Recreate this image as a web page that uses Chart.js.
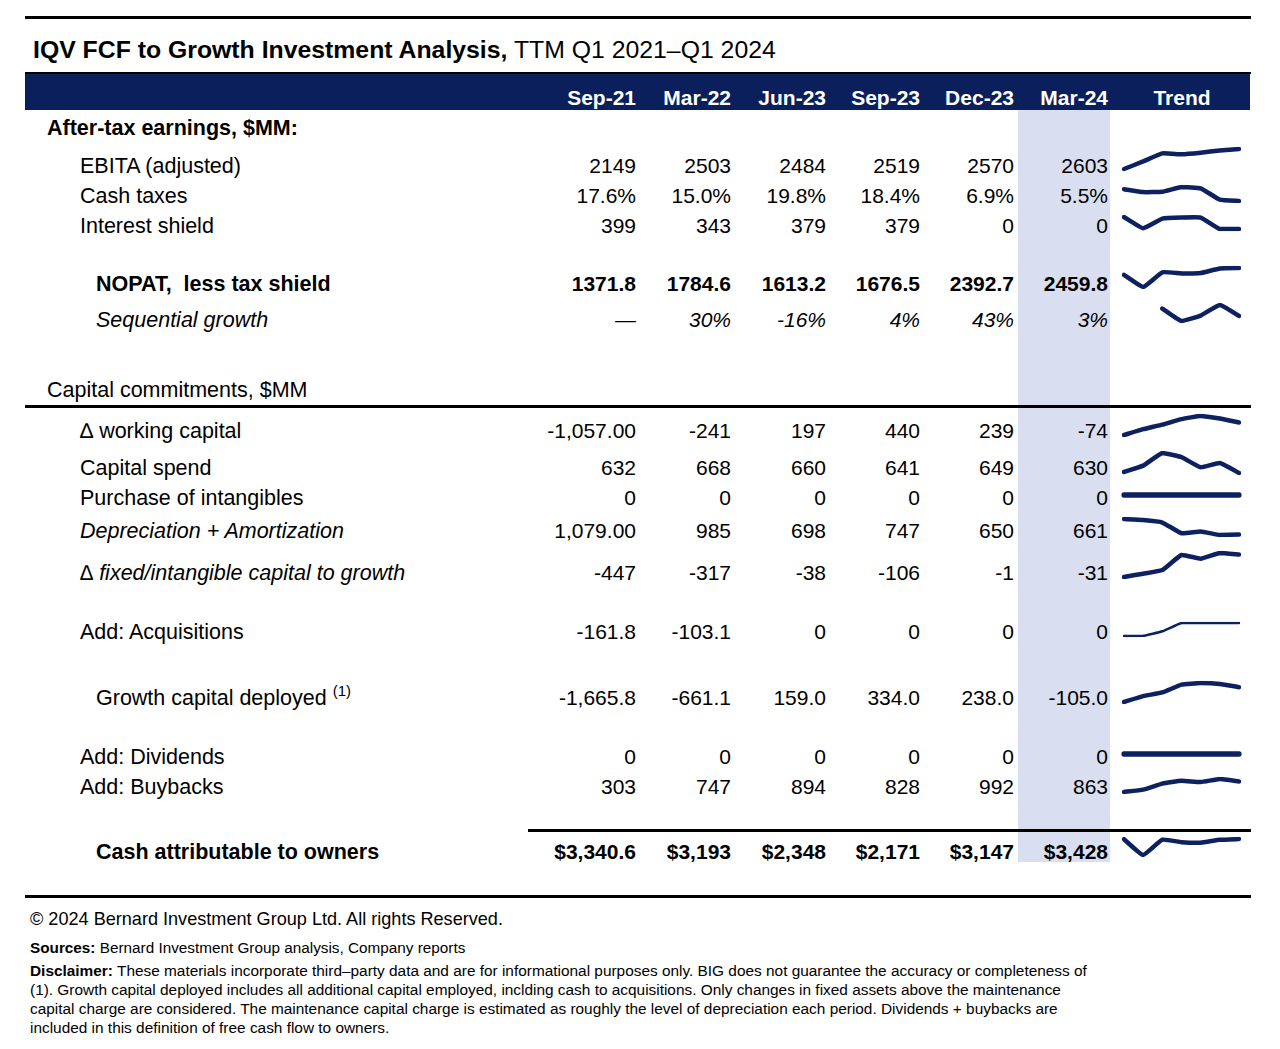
<!DOCTYPE html>
<html>
<head>
<meta charset="utf-8">
<script src="https://cdn.jsdelivr.net/npm/chart.js@4.4.1/dist/chart.umd.min.js"></script>
<style>
  html, body { margin: 0; padding: 0; background: #fff; }
  body { width: 1280px; height: 1049px; position: relative; overflow: hidden;
         font-family: "Liberation Sans", Arial, Helvetica, sans-serif; color: #000; }
  .abs { position: absolute; white-space: nowrap; }
  .rule { position: absolute; background: #000; }
  .cell { position: absolute; height: 30px; line-height: 30px; font-size: 21px; white-space: nowrap; }
  .lbl { font-size: 21.5px; }
  .num { text-align: right; width: 120px; }
  .hdr { position: absolute; top: 83px; height: 30px; line-height: 30px; font-size: 21px; font-weight: bold; color: #fff; text-align: right; width: 120px; }
  canvas.spark { position: absolute; }
  .foot { position: absolute; white-space: nowrap; font-size: 15.4px; line-height: 19px; left: 30px; }
  sup.fn { font-size: 15px; position: relative; top: -9px; vertical-align: baseline; line-height: 0; }
</style>
</head>
<body>
<div class="rule" style="left:25px; top:16px; width:1226px; height:3px;"></div>
<div class="abs" style="left:33px; top:34px; font-size:24.8px; line-height:32px;"><b>IQV FCF to Growth Investment Analysis,</b> TTM Q1 2021–Q1 2024</div>
<div class="rule" style="left:25px; top:72px; width:1226px; height:2px;"></div>
<div style="position:absolute; left:25px; top:74px; width:1225px; height:36px; background:#0b1f5c;"></div>
<div style="position:absolute; left:1018px; top:110px; width:92px; height:752px; background:#d9dff0;"></div>
<div id="root"></div>
<div class="rule" style="left:25px; top:405px; width:1226px; height:3px;"></div>
<div class="rule" style="left:528px; top:829px; width:723px; height:3px;"></div>
<div class="rule" style="left:25px; top:895px; width:1226px; height:3px;"></div>

<div class="abs" style="left:30px; top:907px; font-size:18.1px; line-height:24px;">© 2024 Bernard Investment Group Ltd. All rights Reserved.</div>
<div class="foot" style="top:938px; font-size:15.3px;"><b>Sources:</b> Bernard Investment Group analysis, Company reports</div>
<div class="foot" style="top:961px;"><b>Disclaimer:</b> These materials incorporate third–party data and are for informational purposes only. BIG does not guarantee the accuracy or completeness of</div>
<div class="foot" style="top:980px;">(1). Growth capital deployed includes all additional capital employed, inclding cash to acquisitions. Only changes in fixed assets above the maintenance</div>
<div class="foot" style="top:999px;">capital charge are considered. The maintenance capital charge is estimated as roughly the level of depreciation each period. Dividends + buybacks are</div>
<div class="foot" style="top:1018px;">included in this definition of free cash flow to owners.</div>

<script>
// ---------- DATA ----------
const periods = ['Sep-21', 'Mar-22', 'Jun-23', 'Sep-23', 'Dec-23', 'Mar-24'];
const ebita = [2149, 2503, 2484, 2519, 2570, 2603];
const cashTaxes = [17.6, 15.0, 19.8, 18.4, 6.9, 5.5];
const interestShield = [399, 343, 379, 379, 0, 0];
const nopat = [1371.8, 1784.6, 1613.2, 1676.5, 2392.7, 2459.8];
const seqGrowth = [null, 30, -16, 4, 43, 3];
const workingCapital = [-1057, -241, 197, 440, 239, -74];
const capitalSpend = [632, 668, 660, 641, 649, 630];
const intangibles = [0, 0, 0, 0, 0, 0];
const depAmort = [1079, 985, 698, 747, 650, 661];
const fixedCapital = [-447, -317, -38, -106, -1, -31];
const acquisitions = [-161.8, -103.1, 0, 0, 0, 0];
const growthCapital = [-1665.8, -661.1, 159.0, 334.0, 238.0, -105.0];
const dividends = [0, 0, 0, 0, 0, 0];
const buybacks = [303, 747, 894, 828, 992, 863];
const cashToOwners = [3340.6, 3193, 2348, 2171, 3147, 3428];

// The Trend sparklines have a 7th point (a period not shown in the table,
// between Sep-21 and Mar-22); its values are estimated from the sparklines.
const trendPeriods = ['Sep-21', 'Dec-21', 'Mar-22', 'Jun-23', 'Sep-23', 'Dec-23', 'Mar-24'];
const hiddenEbita = 2320;
const hiddenCashTaxes = 14.6;
const hiddenInterest = 25;
const hiddenNopat = -520;
const hiddenGrowth = null;
const hiddenWorkingCapital = -600;
const hiddenCapitalSpend = 644;
const hiddenIntangibles = 0;
const hiddenDepAmort = 1050;
const hiddenFixedCapital = -385;
const hiddenAcquisitions = -160;
const hiddenGrowthCapital = -1050;
const hiddenDividends = 0;
const hiddenBuybacks = 430;
const hiddenCashToOwners = -2000;

// ---------- LAYOUT / STYLE ----------
const colRight = [636, 731, 826, 920, 1014, 1108];
const navy = '#0d2160';

const rows = [
  { label: 'After-tax earnings, $MM:', y: 128, x: 47, bold: true },
  { label: 'EBITA (adjusted)', y: 166, x: 80, data: ebita, hidden: hiddenEbita, fmt: { dec: 0 }, spark: [149, 169] },
  { label: 'Cash taxes', y: 196, x: 80, data: cashTaxes, hidden: hiddenCashTaxes, fmt: { dec: 1, suf: '%' }, spark: [187, 201] },
  { label: 'Interest shield', y: 226, x: 80, data: interestShield, hidden: hiddenInterest, fmt: { dec: 0 }, spark: [217, 229] },
  { label: 'NOPAT,&nbsp;&nbsp;less tax shield', y: 284, x: 96, bold: true, data: nopat, hidden: hiddenNopat, fmt: { dec: 1 }, spark: [268, 287] },
  { label: 'Sequential growth', y: 320, x: 96, italic: true, numItalic: true, data: seqGrowth, hidden: hiddenGrowth, fmt: { dec: 0, suf: '%' }, spark: [305, 321] },
  { label: 'Capital commitments, $MM', y: 390, x: 47 },
  { label: '∆ working capital', y: 431, x: 80, data: workingCapital, hidden: hiddenWorkingCapital, fmt: { dec: [2,0,0,0,0,0], comma: true }, spark: [416, 435] },
  { label: 'Capital spend', y: 468, x: 80, data: capitalSpend, hidden: hiddenCapitalSpend, fmt: { dec: 0 }, spark: [453, 473] },
  { label: 'Purchase of intangibles', y: 498, x: 80, data: intangibles, hidden: hiddenIntangibles, fmt: { dec: 0 }, spark: [489, 501], width: 5.5 },
  { label: 'Depreciation + Amortization', y: 531, x: 80, italic: true, data: depAmort, hidden: hiddenDepAmort, fmt: { dec: [2,0,0,0,0,0], comma: true }, spark: [519, 535] },
  { label: '∆ fixed/intangible capital to growth', y: 573, x: 80, italic: true, data: fixedCapital, hidden: hiddenFixedCapital, fmt: { dec: 0 }, spark: [553, 577] },
  { label: 'Add: Acquisitions', y: 632, x: 80, data: acquisitions, hidden: hiddenAcquisitions, fmt: { dec: [1,1,0,0,0,0] }, spark: [623, 636], width: 2.5 },
  { label: 'Growth capital deployed <sup class="fn">(1)</sup>', y: 698, x: 96, data: growthCapital, hidden: hiddenGrowthCapital, fmt: { dec: 1, comma: true }, spark: [683, 702] },
  { label: 'Add: Dividends', y: 757, x: 80, data: dividends, hidden: hiddenDividends, fmt: { dec: 0 }, spark: [748, 760], width: 5.5 },
  { label: 'Add: Buybacks', y: 787, x: 80, data: buybacks, hidden: hiddenBuybacks, fmt: { dec: 0 }, spark: [779, 792] },
  { label: 'Cash attributable to owners', y: 852, x: 96, bold: true, data: cashToOwners, hidden: hiddenCashToOwners, fmt: { dec: [1,0,0,0,0,0], comma: true, pre: '$' }, spark: [839, 855] }
];

function fmtVal(v, i, f) {
  if (v === null || v === undefined) return '—';
  const d = Array.isArray(f.dec) ? f.dec[i] : f.dec;
  let s = Math.abs(v).toFixed(d);
  if (f.comma) {
    const parts = s.split('.');
    parts[0] = parts[0].replace(/\B(?=(\d{3})+(?!\d))/g, ',');
    s = parts.join('.');
  }
  return (v < 0 ? '-' : '') + (f.pre || '') + s + (f.suf || '');
}

const root = document.getElementById('root');

// header
periods.forEach((p, i) => {
  const d = document.createElement('div');
  d.className = 'hdr';
  d.style.left = (colRight[i] - 120) + 'px';
  d.textContent = p;
  root.appendChild(d);
});
const trend = document.createElement('div');
trend.className = 'hdr';
trend.style.left = (1182 - 60) + 'px';
trend.style.textAlign = 'center';
trend.textContent = 'Trend';
root.appendChild(trend);

rows.forEach(r => {
  const l = document.createElement('div');
  l.className = 'cell lbl';
  l.style.left = r.x + 'px';
  l.style.top = (r.y - 15) + 'px';
  if (r.bold) l.style.fontWeight = 'bold';
  if (r.italic) l.style.fontStyle = 'italic';
  l.innerHTML = r.label;
  root.appendChild(l);
  if (!r.data) return;
  r.data.forEach((v, i) => {
    const c = document.createElement('div');
    c.className = 'cell num';
    c.style.left = (colRight[i] - 120) + 'px';
    c.style.top = (r.y - 15) + 'px';
    if (r.bold) c.style.fontWeight = 'bold';
    if (r.numItalic) c.style.fontStyle = 'italic';
    c.textContent = fmtVal(v, i, r.fmt);
    root.appendChild(c);
  });
  // sparkline (7 points: table values plus the hidden period)
  const trendVals = [r.data[0], r.hidden].concat(r.data.slice(1));
  const pad = 5;
  const sx = [1124, 1239];
  const cv = document.createElement('canvas');
  cv.className = 'spark';
  const w = sx[1] - sx[0] + 2 * pad;
  const h = r.spark[1] - r.spark[0] + 2 * pad;
  cv.width = w; cv.height = h;
  cv.style.width = w + 'px'; cv.style.height = h + 'px';
  cv.style.left = (sx[0] - pad) + 'px';
  cv.style.top = (r.spark[0] - pad) + 'px';
  root.appendChild(cv);
  new Chart(cv, {
    type: 'line',
    data: { labels: trendPeriods, datasets: [{ data: trendVals, borderColor: navy, borderWidth: r.width || 4.5,
      pointRadius: 0, tension: 0.12, fill: false, spanGaps: false, borderCapStyle: 'round', borderJoinStyle: 'round' }] },
    options: {
      responsive: false, animation: false, events: [],
      layout: { padding: pad },
      plugins: { legend: { display: false }, tooltip: { enabled: false } },
      scales: { x: { display: false }, y: { display: false, bounds: 'data' } }
    }
  });
});
</script>
</body>
</html>
